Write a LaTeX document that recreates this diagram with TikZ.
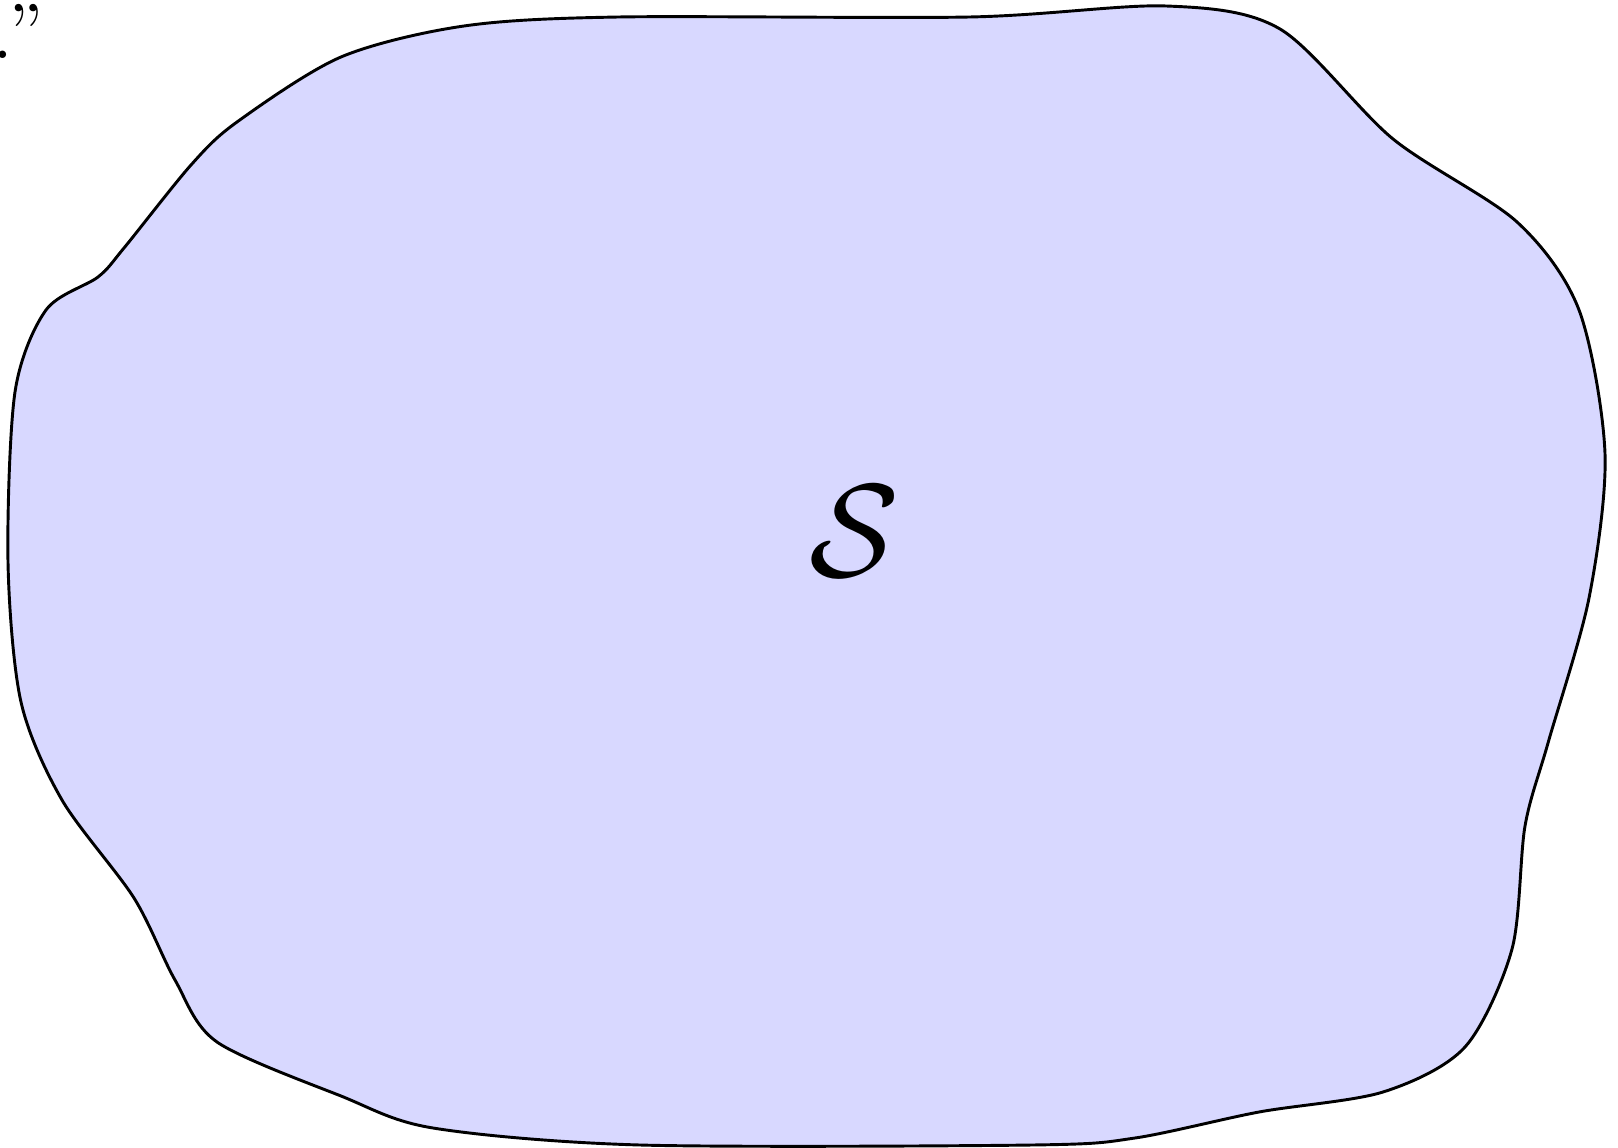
\documentclass[tikz,border=0pt]{standalone}
\usepackage{tikz}
\usetikzlibrary{positioning}
\definecolor{RegionFill}{RGB}{216, 216, 255}

\begin{document}
\begin{tikzpicture}[x=0.0661mm,y=-0.0661mm]
  \path[use as bounding box] (0,0) rectangle (1618,1148);
  % region S
  \draw[fill=RegionFill, line width=0.55pt]
    plot[smooth cycle, tension=0.5] coordinates {
      (619,17) (970,17) (1166,6) (1280,29) (1393,139)
      (1517,222) (1579,310) (1605,454) (1589,598) (1548,743) (1525,826)
      (1512,949) (1465,1047) (1383,1092) (1259,1112) (1135,1138) (1032,1145)
      (640,1145) (433,1128) (341,1096) (217,1042) (175,980) (134,898)
      (62,800) (21,702) (8,562) (15,392) (46,310) (98,277)
      (124,248) (191,165) (237,122) (341,57) (464,26)
    };
  \node (lbl) at (854,531) {\Huge$\mathcal{S}$};
  % stray text in the corner
  \node[inner sep=0pt, anchor=south west, font=\Large] (dot) at (-9,60) {.};
  \node[inner sep=0pt, anchor=north, font=\Large] (quote) at (26,3) {''};
\end{tikzpicture}
\end{document}
